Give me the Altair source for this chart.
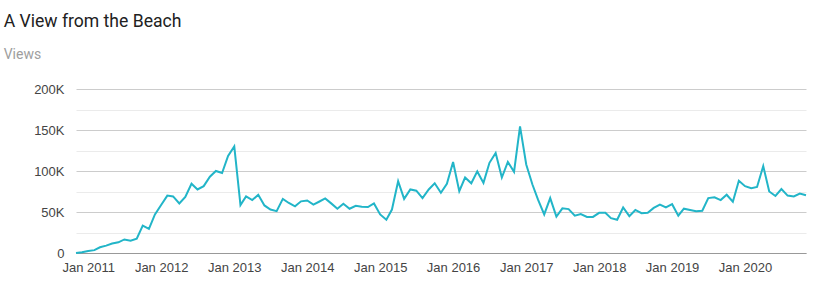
import altair as alt
import pandas as pd

title_text = "A View from the Beach"
subtitle_text = "Views"
start_month = "2010-11-01"
end_month = "2020-11-01"
views_k = [
    0, 1, 2.5, 3.5, 7, 9, 11.5, 13, 16.5, 15, 17.5, 33.5, 29.5, 47, 58.5, 70,
    69, 60.5, 68.5, 84.5, 77.5, 81.5, 93, 100, 97.5, 118.5, 130, 58.5, 69, 64.5,
    71, 58, 53, 51, 66, 61, 57, 63, 64, 59, 62.5, 66.5, 60.5, 54, 60, 54, 57.5,
    56.5, 56, 60.5, 47, 40.5, 53, 87.5, 66, 77.5, 76, 67, 77.5, 85, 73.5, 84.5,
    111, 75.5, 92, 85, 99.5, 85.5, 110, 122, 92, 111, 99, 154.5, 108, 83.5, 65,
    47, 67, 44.5, 54.5, 53.5, 45.5, 47.5, 44, 44, 49, 49, 42.5, 40.5, 55.5, 45,
    52.5, 48.5, 49, 55, 59, 55.5, 59.5, 45.5, 54, 52.5, 51, 51.5, 67, 68, 64.5,
    71, 62.5, 88, 81.5, 79, 80.5, 106, 75, 69.5, 78, 70, 69, 72.5, 70.5,
]
tick_years = list(range(2011, 2021))
y_ticks = [0, 25000, 50000, 75000, 100000, 125000, 150000, 175000, 200000]

dates = pd.date_range(start_month, end_month, freq="MS")
df = pd.DataFrame({
    "date": dates.strftime("%Y-%m-%d"),
    "views": [v * 1000 for v in views_k],
})

x_values = [alt.DateTime(year=y, month=1, date=1, utc=True) for y in tick_years]

chart = alt.Chart(df).mark_line(color="#22b5c8", strokeWidth=2).encode(
    x=alt.X(
        "date:T",
        scale=alt.Scale(
            type="utc",
            domain=[
                alt.DateTime(year=2010, month=11, date=1, utc=True),
                alt.DateTime(year=2020, month=11, date=1, utc=True),
            ],
            nice=False,
        ),
        axis=alt.Axis(
            values=x_values,
            labelExpr="utcFormat(datum.value, '%b %Y')",
            title=None,
            grid=False,
            ticks=False,
            tickSize=0,
            labelPadding=8,
            labelFont="Liberation Sans",
            labelFontSize=13,
            labelColor="#444444",
            domain=True,
            domainColor="#999999",
            domainWidth=1,
            labelAlign="center",
        ),
    ),
    y=alt.Y(
        "views:Q",
        scale=alt.Scale(domain=[0, 200000], nice=False),
        axis=alt.Axis(
            values=y_ticks,
            labelExpr="datum.value % 50000 !== 0 ? '' : (datum.value === 0 ? '0' : (datum.value / 1000) + 'K')",
            title=None,
            domain=False,
            ticks=False,
            tickSize=0,
            labelPadding=12,
            labelFont="Liberation Sans",
            labelFontSize=13,
            labelColor="#444444",
            grid=True,
            gridColor={"condition": {"test": "datum.value % 50000 === 0", "value": "#cccccc"}, "value": "#ebebeb"},
            gridWidth=1,
        ),
    ),
).properties(
    width=730,
    height=164,
    title=alt.TitleParams(
        text=title_text,
        subtitle=subtitle_text,
        anchor="start",
        dx=-30,
        offset=21,
        font="Roboto",
        fontSize=17.6,
        fontWeight="normal",
        color="#212121",
        subtitleFont="Roboto",
        subtitleFontSize=14,
        subtitleColor="#9e9e9e",
        subtitlePadding=17,
    ),
    autosize=alt.AutoSizeParams(type="none"),
    padding={"left": 76, "top": 89, "right": 18, "bottom": 33},
    background="white",
).configure_view(stroke=None)

chart.save("out.html", embed_options={"renderer": "svg", "actions": False})
